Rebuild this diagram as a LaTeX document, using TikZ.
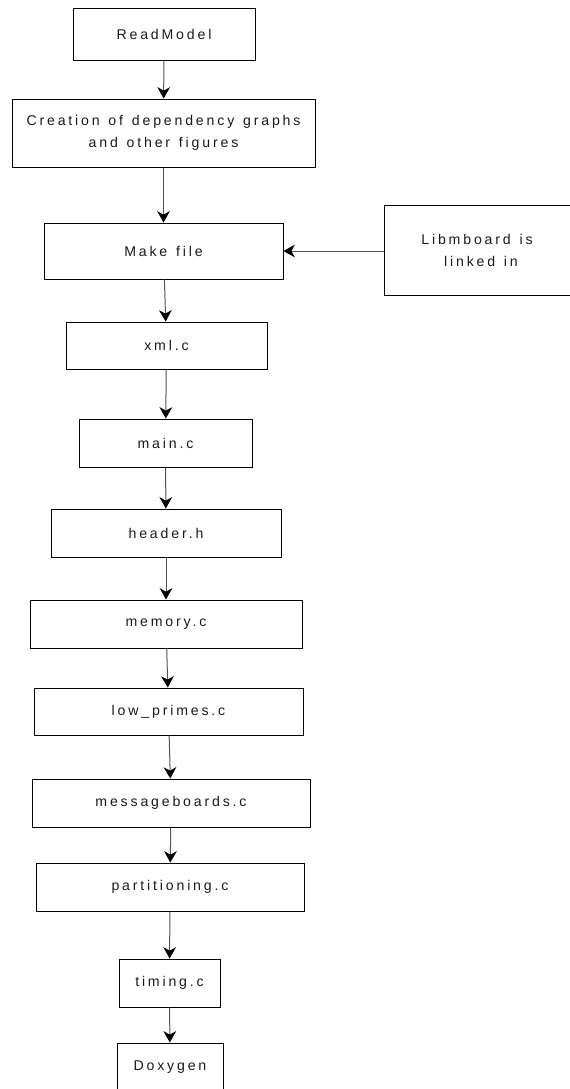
\documentclass[tikz,border=0pt]{standalone}
\usepackage{fontspec}
\setmainfont{Liberation Sans}[LetterSpace=20, WordSpace=1.3]
\usetikzlibrary{arrows.meta}
\definecolor{linegray}{HTML}{555555}
\definecolor{textgray}{HTML}{1A1A1A}
\begin{document}
\begin{tikzpicture}[x=0.75pt,y=-0.75pt,
  box/.style={draw=black, line width=0.75pt, rectangle, inner sep=0pt,
    align=center, font=\fontsize{10.6}{16.5}\selectfont, text=textgray},
  flow/.style={draw=linegray, line width=0.75pt,
    -{Stealth[length=8.5pt,width=9.5pt,inset=2.6pt,black]}}]
\useasboundingbox (0,0) rectangle (570,1089);
\clip (0,0) rectangle (570,1089);

\node[box, minimum width=182*0.75pt, minimum height=52*0.75pt] (read) at (164,34) {ReadModel};
\node[box, minimum width=303*0.75pt, minimum height=68*0.75pt] (graphs) at (163.5,133) {Creation of dependency graphs\\and other figures};
\node[box, minimum width=239*0.75pt, minimum height=56*0.75pt] (make) at (163.5,251) {Make file};
\node[box, minimum width=210*0.75pt, minimum height=90*0.75pt] (libm) at (489,250) {\hspace*{-18pt}Libmboard is\\\hspace*{-12pt}linked in};
\node[box, minimum width=201*0.75pt, minimum height=47*0.75pt] (xml) at (166.5,345.5) {xml.c};
\node[box, minimum width=173*0.75pt, minimum height=48*0.75pt] (main) at (165.5,443) {main.c};
\node[box, minimum width=230*0.75pt, minimum height=48*0.75pt] (header) at (166,533) {header.h};
\node[box, minimum width=272*0.75pt, minimum height=48*0.75pt] (memory) at (166,624) {memory.c};
\node[box, minimum width=269*0.75pt, minimum height=47*0.75pt] (lowp) at (168.5,711.5) {low\_primes.c};
\node[box, minimum width=278*0.75pt, minimum height=48*0.75pt] (msgb) at (171,803) {messageboards.c};
\node[box, minimum width=268*0.75pt, minimum height=48*0.75pt] (part) at (170,887) {partitioning.c};
\node[box, minimum width=101*0.75pt, minimum height=48*0.75pt] (timing) at (169.5,983) {timing.c};
\node[box, minimum width=106*0.75pt, minimum height=48*0.75pt] (doxy) at (170,1067) {Doxygen};

\draw[flow] (read) -- (graphs);
\draw[flow] (graphs) -- (make);
\draw[flow] (libm.west |- make.east) -- (make.east);
\draw[flow] (make) -- (xml);
\draw[flow] (xml) -- (main);
\draw[flow] (main) -- (header);
\draw[flow] (header) -- (memory);
\draw[flow] (memory) -- (lowp);
\draw[flow] (lowp) -- (msgb);
\draw[flow] (msgb) -- (part);
\draw[flow] (part) -- (timing);
\draw[flow] (timing) -- (doxy);
\end{tikzpicture}
\end{document}
